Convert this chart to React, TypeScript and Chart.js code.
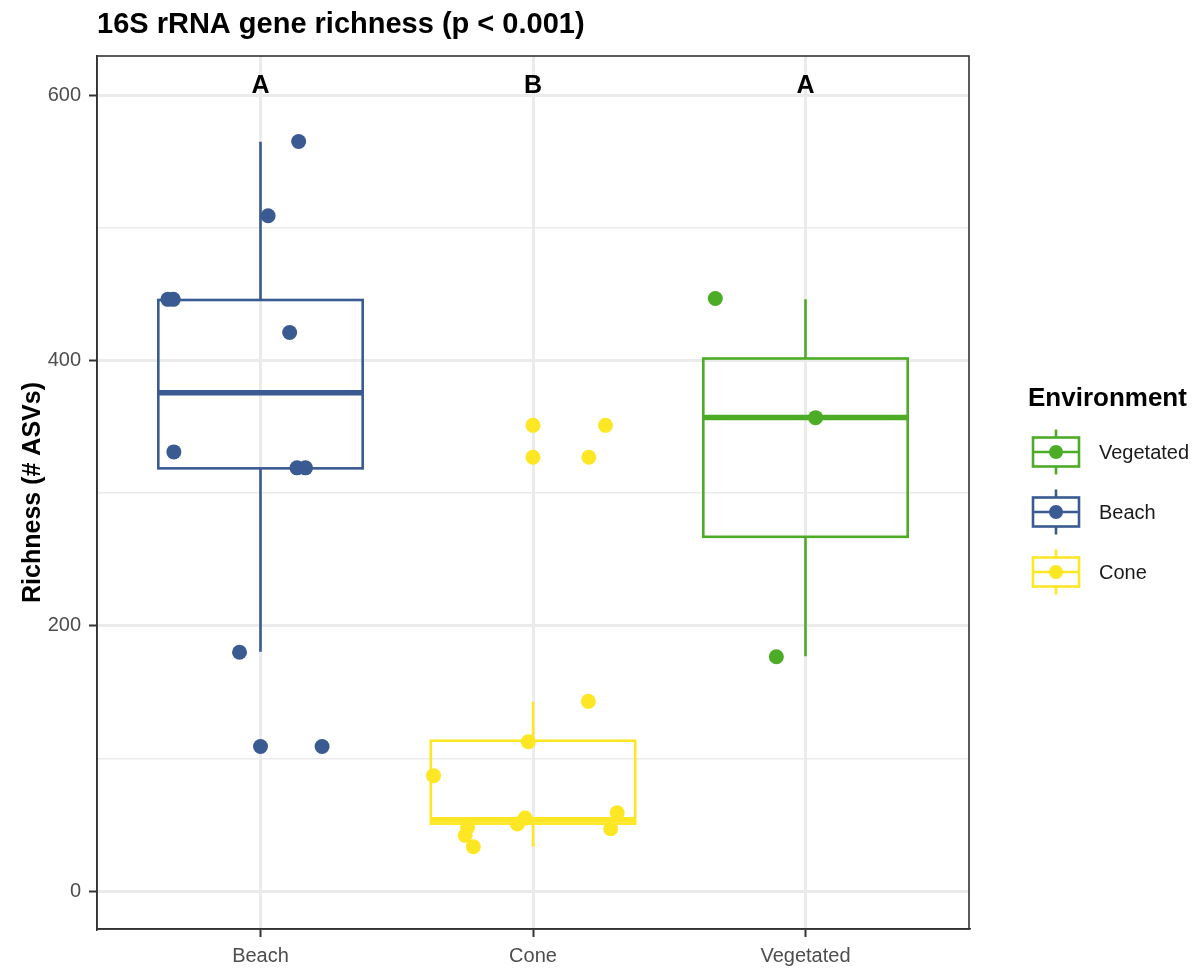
import React, { useEffect, useRef } from "react";
import { Chart, registerables } from "chart.js";

Chart.register(...registerables);

const FONT = "'Liberation Sans', Arial, Helvetica, sans-serif";

const categories = ["Beach", "Cone", "Vegetated"];
const groupColors = ["#3A5A92", "#FDE725", "#4DAC26"];
const letters = ["A", "B", "A"];
const letterY = 607;

// box statistics per category
const whiskerLow = [180.4, 33.4, 177];
const quartile1 = [318.6, 50.8, 267];
const medians = [375.5, 53.8, 357];
const quartile3 = [445.5, 113.3, 401.4];
const whiskerHigh = [564.8, 142.7, 446];

// jittered observations
const beachX = [1.14, 1.028, 0.66, 0.68, 1.107, 0.682, 1.134, 1.165, 0.923, 1.0, 1.226];
const beachY = [565, 509, 446, 446, 421, 331, 319, 319, 180, 109, 109];
const coneX = [2.0, 2.266, 2.0, 2.205, 2.203, 1.983, 1.635, 2.309, 1.971, 1.943, 2.285, 1.751, 1.781, 1.76];
const coneY = [351, 351, 327, 327, 143, 112.5, 87, 59, 55, 50.5, 47, 42, 33.4, 48];
const vegX = [2.669, 3.037, 2.893];
const vegY = [446.6, 356.8, 176.6];

const yTicks = [0, 100, 200, 300, 400, 500, 600];
const yMajor = [0, 200, 400, 600];
const xTicks = [1, 2, 3];

const legendTitle = "Environment";
const legendOrder = [2, 0, 1]; // Vegetated, Beach, Cone
const titleText = "16S rRNA gene richness (p < 0.001)";
const yTitle = "Richness (# ASVs)";

const boxWidth = 0.75;

const boxPlugin = {
  id: "boxes",
  beforeDatasetsDraw(chart: any) {
    const { ctx, scales } = chart;
    const xs = scales.x;
    const ys = scales.y;
    ctx.save();
    categories.forEach((_, i) => {
      const xc = xs.getPixelForValue(i + 1);
      const xl = xs.getPixelForValue(i + 1 - boxWidth / 2);
      const xr = xs.getPixelForValue(i + 1 + boxWidth / 2);
      const yLo = ys.getPixelForValue(whiskerLow[i]);
      const yQ1 = ys.getPixelForValue(quartile1[i]);
      const yMed = ys.getPixelForValue(medians[i]);
      const yQ3 = ys.getPixelForValue(quartile3[i]);
      const yHi = ys.getPixelForValue(whiskerHigh[i]);
      ctx.strokeStyle = groupColors[i];
      ctx.lineWidth = 2.6;
      ctx.lineCap = "butt";
      ctx.beginPath();
      ctx.moveTo(xc, yHi);
      ctx.lineTo(xc, yQ3);
      ctx.moveTo(xc, yQ1);
      ctx.lineTo(xc, yLo);
      ctx.stroke();
      ctx.lineJoin = "miter";
      ctx.strokeRect(xl, yQ3, xr - xl, yQ1 - yQ3);
      ctx.lineWidth = 5.5;
      ctx.beginPath();
      ctx.moveTo(xl, yMed);
      ctx.lineTo(xr, yMed);
      ctx.stroke();
    });
    ctx.restore();
  },
  afterDraw(chart: any) {
    const { ctx, chartArea, scales } = chart;
    const xs = scales.x;
    const ys = scales.y;
    ctx.save();
    // panel border
    ctx.strokeStyle = "#333333";
    ctx.lineWidth = 1.6;
    ctx.strokeRect(chartArea.left, chartArea.top, chartArea.right - chartArea.left, chartArea.bottom - chartArea.top);
    // letters
    ctx.fillStyle = "#000000";
    ctx.font = `bold 25px ${FONT}`;
    ctx.textAlign = "center";
    ctx.textBaseline = "middle";
    letters.forEach((l, i) => {
      ctx.fillText(l, xs.getPixelForValue(i + 1), ys.getPixelForValue(letterY));
    });
    // title
    ctx.textAlign = "left";
    ctx.textBaseline = "alphabetic";
    ctx.font = `bold 29px ${FONT}`;
    ctx.fillText(titleText, chartArea.left, 33);
    // y title
    ctx.save();
    ctx.translate(33, (chartArea.top + chartArea.bottom) / 2);
    ctx.rotate(-Math.PI / 2);
    ctx.textAlign = "center";
    ctx.textBaseline = "middle";
    ctx.font = `bold 25px ${FONT}`;
    ctx.fillText(yTitle, 0, 0);
    ctx.restore();
    // legend
    ctx.textAlign = "left";
    ctx.textBaseline = "alphabetic";
    ctx.font = `bold 26px ${FONT}`;
    ctx.fillText(legendTitle, 1028, 406);
    const keyLeft = 1033;
    const keyW = 46;
    const keyH = 29;
    legendOrder.forEach((gi, k) => {
      const cy = 452 + k * 60;
      const cx = keyLeft + keyW / 2;
      ctx.strokeStyle = groupColors[gi];
      ctx.lineWidth = 2.6;
      ctx.beginPath();
      ctx.moveTo(cx, cy - keyH / 2 - 8);
      ctx.lineTo(cx, cy - keyH / 2);
      ctx.moveTo(cx, cy + keyH / 2);
      ctx.lineTo(cx, cy + keyH / 2 + 8);
      ctx.moveTo(keyLeft, cy);
      ctx.lineTo(keyLeft + keyW, cy);
      ctx.stroke();
      ctx.strokeRect(keyLeft, cy - keyH / 2, keyW, keyH);
      ctx.fillStyle = groupColors[gi];
      ctx.beginPath();
      ctx.arc(cx, cy, 7, 0, Math.PI * 2);
      ctx.fill();
      ctx.fillStyle = "#1A1A1A";
      ctx.font = `20px ${FONT}`;
      ctx.textBaseline = "middle";
      ctx.fillText(categories[gi], 1099, cy + 1);
    });
    ctx.restore();
  },
};

function makePoints(xv: number[], yv: number[]) {
  return xv.map((x, i) => ({ x, y: yv[i] }));
}

export default function App() {
  const ref = useRef<HTMLCanvasElement | null>(null);
  useEffect(() => {
    if (!ref.current) return;
    const seriesX = [beachX, coneX, vegX];
    const seriesY = [beachY, coneY, vegY];
    const chart = new Chart(ref.current, {
      type: "scatter",
      data: {
        datasets: categories.map((c, i) => ({
          label: c,
          data: makePoints(seriesX[i], seriesY[i]),
          backgroundColor: groupColors[i],
          borderWidth: 0,
          pointRadius: 7.5,
          pointHoverRadius: 7.5,
        })),
      },
      options: {
        animation: false,
        responsive: false,
        devicePixelRatio: 1,
        layout: { padding: { top: 56, right: 232, left: 0, bottom: 0 } },
        plugins: { legend: { display: false }, tooltip: { enabled: false }, title: { display: false } },
        scales: {
          x: {
            type: "linear",
            min: 0.4,
            max: 3.6,
            afterBuildTicks: (axis: any) => {
              axis.ticks = xTicks.map((v) => ({ value: v }));
            },
            afterFit: (axis: any) => {
              axis.height = 39;
            },
            ticks: {
              callback: (v: any) => categories[Math.round(Number(v)) - 1] ?? "",
              color: "#4D4D4D",
              font: { family: FONT, size: 20 },
              padding: 7,
              maxRotation: 0,
              autoSkip: false,
            },
            grid: { color: "#EBEBEB", lineWidth: 3, tickColor: "#333333", tickLength: 8, tickWidth: 2 },
            border: { display: true, color: "#333333", width: 1.6 },
          },
          y: {
            type: "linear",
            min: -28.6,
            max: 629.4,
            afterBuildTicks: (axis: any) => {
              axis.ticks = yTicks.map((v) => ({ value: v }));
            },
            afterFit: (axis: any) => {
              axis.width = 97;
            },
            ticks: {
              callback: (v: any) => (yMajor.includes(Number(v)) ? String(v) : ""),
              color: "#4D4D4D",
              font: { family: FONT, size: 20 },
              padding: 8,
              autoSkip: false,
            },
            grid: {
              color: "#EBEBEB",
              lineWidth: (c: any) => (c.tick && yMajor.includes(c.tick.value) ? 3 : 1.6),
              tickColor: (c: any) => (c.tick && yMajor.includes(c.tick.value) ? "#333333" : "rgba(0,0,0,0)"),
              tickLength: 8,
              tickWidth: 2,
            },
            border: { display: true, color: "#333333", width: 1.6 },
          },
        },
      },
      plugins: [boxPlugin],
    });
    return () => chart.destroy();
  }, []);
  return (
    <div style={{ position: "fixed", left: 0, top: 0, width: 1201, height: 968, background: "#ffffff" }}>
      <canvas ref={ref} width={1201} height={968} style={{ display: "block" }} />
    </div>
  );
}
